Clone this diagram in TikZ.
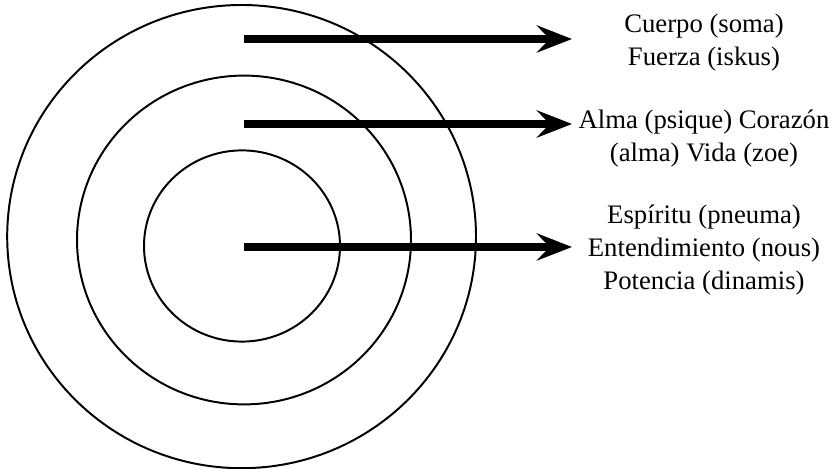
\documentclass[tikz,border=0pt]{standalone}
\usepackage{fontspec}
\setmainfont{Liberation Serif}
\usepackage{tikz}
\usetikzlibrary{arrows.meta,positioning}

\begin{document}
\begin{tikzpicture}[
    ring/.style={line width=1.4pt},
    flecha/.style={line width=5pt, -{Stealth[length=8.8mm, width=6.8mm, inset=3.2mm]}},
    etiqueta/.style={align=center, font=\fontsize{19}{23.5}\selectfont}
  ]
    \useasboundingbox (0,0) rectangle (20.8,11.725);
    % Circles
    \draw[ring] (6.04,5.81) ellipse [x radius=5.86, y radius=5.79];
    \draw[ring] (6.10,5.725) ellipse [x radius=4.175, y radius=4.11];
    \draw[ring] (6.05,5.575) ellipse [x radius=2.45, y radius=2.39];
    % Labels
    \node[etiqueta] (cuerpo) at (17.6,10.65) {Cuerpo (soma)\\Fuerza (iskus)};
    \node[etiqueta] (alma) at (17.6,8.25) {Alma (psique) Corazón\\(alma) Vida (zoe)};
    \node[etiqueta] (espiritu) at (17.6,5.475) {Espíritu (pneuma)\\Entendimiento (nous)\\Potencia (dinamis)};
    % Arrows
    \coordinate (c1) at (6.1,10.75);
    \coordinate (c2) at (6.1,8.625);
    \coordinate (c3) at (6.1,5.55);
    \coordinate (f1) at (14.3,10.75);
    \coordinate (f2) at (14.3,8.625);
    \coordinate (f3) at (14.3,5.55);
    \draw[flecha] (c1) -- (f1);
    \draw[flecha] (c2) -- (f2);
    \draw[flecha] (c3) -- (f3);
\end{tikzpicture}
\end{document}
